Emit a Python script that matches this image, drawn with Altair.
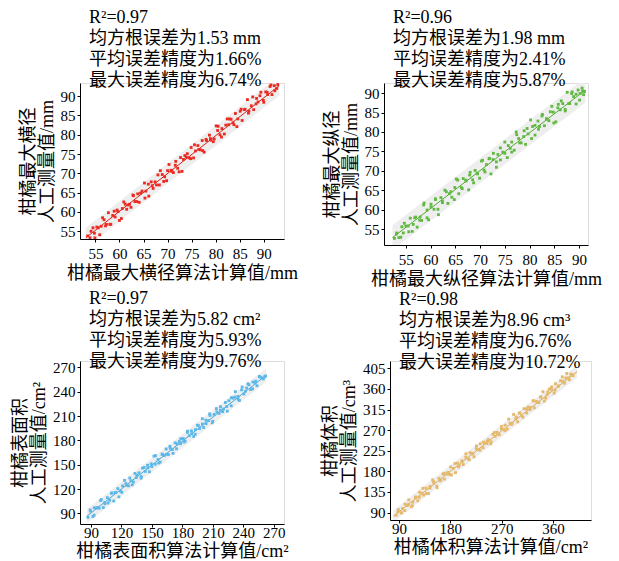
import altair as alt
import pandas as pd

FONT = "Liberation Serif, Noto Sans CJK SC"

# ---------------- panel 1: 最大横径 ----------------
x1 = [53.4, 53.9, 54.5, 54.8, 55.3, 55.9, 56.2, 56.8, 57.1, 57.7, 58.2, 58.6, 59.1, 59.5, 60.0, 60.6, 60.9, 61.5, 61.8, 62.4,
      62.9, 63.2, 63.8, 64.1, 64.7, 65.2, 65.5, 66.1, 66.6, 67.0, 67.4, 68.0, 68.3, 68.9, 69.4, 69.8, 70.3, 70.7, 71.2, 71.6,
      72.1, 72.7, 73.0, 73.6, 73.9, 74.5, 74.9, 75.4, 75.8, 76.3, 76.8, 77.2, 77.6, 78.1, 78.7, 79.0, 79.5, 80.1, 80.4, 80.9,
      81.3, 81.8, 82.4, 82.7, 83.2, 83.8, 84.1, 84.6, 85.1, 85.5, 86.0, 86.6, 86.9, 87.4, 87.9, 88.5, 88.8, 89.4, 89.9, 90.4,
      90.8, 91.3, 91.7, 92.2, 92.7,
      54.1, 54.9, 55.6, 56.5, 57.3, 58.0, 58.9, 59.7, 60.4, 61.2, 62.1, 62.8, 63.6, 64.4, 65.3, 66.0, 66.8, 67.7, 68.5, 69.2,
      70.0, 70.9, 71.7, 72.4, 73.3, 74.1, 74.8, 75.6, 76.5, 77.3, 78.0, 78.9, 79.7, 80.5, 81.2, 82.1, 82.9, 83.6, 84.4, 85.3,
      86.1, 86.8, 87.7, 88.4, 89.2, 90.0, 90.7, 91.5, 92.3, 92.9]
y1 = [53.8, 53.3, 55.9, 54.5, 56.1, 54.1, 56.3, 58.0, 56.4, 59.8, 56.8, 59.1, 58.7, 60.5, 57.8, 60.9, 62.6, 60.7, 61.8, 61.2,
      64.2, 62.7, 64.7, 62.5, 65.4, 67.5, 65.4, 64.1, 67.8, 66.1, 67.8, 69.6, 67.0, 69.7, 69.1, 68.1, 72.3, 70.8, 70.2, 72.1,
      71.3, 74.1, 70.5, 74.6, 74.2, 74.0, 76.7, 74.0, 75.8, 77.2, 76.1, 78.5, 75.5, 78.5, 79.9, 78.6, 78.2, 82.3, 81.1, 80.0,
      81.6, 80.2, 84.1, 82.6, 84.0, 82.6, 85.5, 84.1, 86.1, 83.7, 86.5, 89.1, 86.1, 87.5, 86.5, 89.4, 88.5, 91.0, 88.9, 91.1,
      90.4, 92.5, 90.4, 92.7, 92.0,
      55.0, 53.3, 55.9, 58.5, 56.8, 56.8, 60.2, 60.1, 58.3, 62.0, 62.0, 64.4, 62.7, 64.9, 63.6, 67.2, 66.8, 67.0, 70.7, 67.9,
      70.7, 70.5, 73.1, 70.4, 73.6, 75.1, 73.8, 77.4, 76.2, 75.9, 78.8, 79.0, 78.9, 82.2, 79.4, 82.5, 84.1, 83.1, 82.1, 86.6,
      86.6, 85.6, 89.8, 88.0, 90.1, 88.4, 91.0, 92.9, 91.4, 93.0]
fit1_x = [53.0, 93.2]
fit1_y = [53.3, 92.7]
band1_lo = [50.7, 90.1]
band1_hi = [55.9, 95.3]

# ---------------- panel 2: 最大纵径 ----------------
x2 = [52.7, 53.1, 53.6, 54.2, 54.5, 55.0, 55.6, 55.9, 56.5, 56.8, 57.3, 57.9, 58.2, 58.7, 59.3, 59.6, 60.1, 60.7, 61.0, 61.5,
      62.1, 62.4, 62.9, 63.5, 63.8, 64.3, 64.9, 65.2, 65.7, 66.2, 66.6, 67.1, 67.7, 68.0, 68.5, 69.0, 69.4, 69.9, 70.5, 70.8,
      71.3, 71.8, 72.2, 72.7, 73.3, 73.6, 74.1, 74.6, 75.0, 75.5, 76.1, 76.4, 76.9, 77.4, 77.8, 78.3, 78.9, 79.2, 79.7, 80.2,
      80.6, 81.1, 81.7, 82.0, 82.5, 83.0, 83.4, 83.9, 84.5, 84.8, 85.3, 85.8, 86.2, 86.7, 87.2, 87.6, 88.1, 88.5, 88.9, 89.4,
      89.8, 90.2, 90.6, 90.9, 91.1,
      53.2, 54.0, 54.7, 55.5, 56.3, 57.0, 57.8, 58.6, 59.3, 60.1, 61.0, 61.6, 62.4, 63.2, 64.1, 64.8, 65.5, 66.4, 67.2, 67.9,
      68.7, 69.5, 70.3, 71.0, 71.9, 72.6, 73.3, 74.1, 75.0, 75.7, 76.4, 77.3, 78.0, 78.8, 79.5, 80.4, 81.1, 81.8, 82.6, 83.5,
      84.2, 84.9, 85.7, 86.4, 87.2, 87.9, 88.6, 89.4, 90.1, 90.7]
y2 = [52.6, 53.7, 52.8, 55.6, 54.0, 55.8, 54.3, 57.8, 56.2, 57.9, 55.5, 58.1, 57.2, 61.7, 59.9, 57.4, 61.4, 60.1, 62.8, 60.1,
      63.1, 62.2, 65.0, 61.6, 64.1, 63.2, 65.7, 67.9, 64.1, 65.7, 68.0, 67.6, 65.1, 69.6, 67.7, 70.1, 69.4, 68.1, 72.7, 70.2,
      71.6, 73.1, 69.2, 74.5, 72.3, 74.2, 72.8, 74.8, 77.4, 73.4, 75.8, 77.4, 75.3, 79.3, 78.3, 77.2, 80.3, 76.8, 79.5, 83.1,
      81.4, 79.2, 82.8, 81.4, 84.1, 81.6, 83.4, 82.9, 86.6, 85.1, 82.6, 87.1, 85.7, 87.3, 85.4, 90.2, 87.3, 89.9, 89.1, 87.2,
      90.8, 89.9, 91.3, 89.6, 90.4,
      54.0, 52.9, 56.5, 55.8, 54.4, 58.1, 57.3, 61.2, 57.9, 60.7, 62.6, 58.7, 61.8, 64.6, 64.6, 62.6, 67.6, 65.4, 67.4, 68.9,
      66.9, 69.2, 72.5, 69.7, 73.2, 72.9, 70.9, 75.9, 74.5, 76.5, 74.8, 80.0, 77.2, 78.8, 80.9, 78.3, 81.7, 80.7, 84.5, 83.3,
      85.2, 82.3, 86.2, 88.0, 85.8, 87.3, 90.3, 89.7, 88.2, 90.6]
fit2_x = [52.3, 91.3]
fit2_y = [52.8, 90.8]
band2_lo = [49.6, 87.6]
band2_hi = [56.0, 94.0]

# ---------------- panel 3: 表面积 ----------------
x3 = [87.0, 89.2, 91.9, 93.2, 95.5, 98.1, 99.5, 102.1, 103.5, 106.1, 108.4, 110.1, 112.4, 114.1, 116.4, 119.0, 120.4, 123.0,
      124.4, 127.1, 129.3, 130.6, 133.3, 134.6, 137.3, 139.5, 140.8, 143.5, 145.7, 147.5, 149.3, 152.0, 153.3, 156.0, 158.2,
      160.0, 162.2, 164.0, 166.2, 168.0, 170.2, 172.9, 174.2, 176.9, 178.2, 180.9, 182.7, 184.9, 186.7, 188.9, 191.1, 192.9,
      194.7, 196.9, 199.6, 200.9, 203.1, 205.8, 207.2, 209.4, 211.2, 213.4, 216.1, 217.4, 219.6, 222.3, 223.6, 225.8, 228.1,
      229.8, 232.1, 234.7, 236.1, 238.3, 240.5, 243.2, 244.5, 247.2, 249.4, 251.7, 253.4, 255.7, 257.4, 259.7, 261.9,
      89.5, 93.1, 96.2, 100.2, 103.7, 106.8, 110.8, 114.4, 117.5, 121.1, 125.1, 128.2, 131.8, 135.3, 139.3, 142.4, 146.0,
      150.0, 153.5, 156.6, 160.2, 164.2, 167.7, 170.8, 174.8, 178.4, 181.5, 185.1, 189.1, 192.6, 195.7, 199.7, 203.3, 206.8,
      209.9, 213.9, 217.5, 220.6, 224.2, 228.2, 231.7, 234.8, 238.8, 242.0, 245.5, 249.1, 252.2, 255.8, 259.3, 261.0]
y3 = [85.0, 94.2, 86.0, 96.8, 96.4, 96.3, 105.8, 97.1, 103.5, 109.3, 106.1, 114.6, 105.2, 115.5, 120.5, 117.6, 115.9, 130.7,
      126.7, 123.9, 130.2, 125.2, 139.2, 134.1, 140.0, 135.4, 145.8, 141.7, 149.3, 141.2, 151.1, 160.6, 150.6, 156.5, 153.2,
      163.2, 161.3, 169.4, 162.6, 170.3, 168.8, 177.0, 169.7, 178.7, 175.9, 182.3, 179.1, 189.9, 185.8, 191.6, 184.8, 193.4,
      198.8, 194.6, 206.8, 195.9, 204.9, 204.4, 210.8, 201.7, 212.1, 219.3, 213.4, 217.4, 215.5, 226.8, 221.8, 229.0, 222.7,
      232.1, 240.2, 234.2, 229.3, 242.4, 237.3, 244.6, 249.9, 242.7, 252.1, 250.8, 247.5, 259.0, 257.9, 256.1, 259.5,
      92.7, 87.7, 97.1, 107.0, 101.9, 102.7, 115.3, 115.8, 110.3, 123.8, 124.6, 133.6, 128.6, 137.1, 133.4, 146.5, 146.0,
      147.7, 161.2, 152.1, 162.5, 162.8, 172.7, 164.0, 175.7, 182.0, 177.9, 191.4, 188.2, 187.6, 198.4, 200.2, 200.6, 212.7,
      203.6, 215.3, 221.6, 218.8, 216.1, 232.7, 233.5, 230.7, 246.0, 240.6, 248.7, 243.7, 253.1, 258.5, 256.1, 258.8]
fit3_x = [86.0, 262.5]
fit3_y = [86.5, 260.5]
band3_lo = [78.0, 252.0]
band3_hi = [95.0, 269.0]

# ---------------- panel 4: 体积 ----------------
x4 = [85.0, 88.9, 93.7, 96.0, 100.0, 104.7, 107.1, 111.8, 114.2, 118.9, 122.9, 126.0, 130.0, 133.1, 137.1, 141.8, 144.2, 148.9,
      151.3, 156.0, 160.0, 162.3, 167.1, 169.4, 174.2, 178.1, 180.5, 185.2, 189.1, 192.3, 195.5, 200.2, 202.6, 207.3, 211.2,
      214.4, 218.3, 221.5, 225.4, 228.6, 232.5, 237.3, 239.6, 244.4, 246.7, 251.5, 254.6, 258.6, 261.7, 265.7, 269.6, 272.8,
      275.9, 279.9, 284.6, 287.0, 290.9, 295.7, 298.0, 302.0, 305.1, 309.1, 313.8, 316.2, 320.1, 324.9, 327.2, 331.2, 335.1,
      338.3, 342.2, 347.0, 349.3, 353.3, 357.2, 361.9, 364.3, 369.0, 373.0, 376.9, 380.1, 384.0, 387.2, 391.1, 395.1,
      88.0, 94.5, 100.6, 106.8, 113.3, 119.2, 125.6, 131.9, 138.0, 144.4, 150.5, 156.9, 163.0, 169.3, 175.6, 181.8, 188.1,
      194.3, 200.6, 206.9, 213.1, 219.4, 225.7, 231.9, 238.2, 244.5, 250.7, 257.0, 263.3, 269.5, 275.8, 282.1, 288.3, 294.6,
      300.9, 307.1, 313.4, 319.7, 325.9, 332.2, 338.5, 344.7, 351.0, 357.3, 363.5, 369.8, 376.1, 382.3, 388.6, 393.0]
y4 = [84.0, 96.6, 89.5, 98.8, 94.4, 105.4, 117.6, 102.7, 112.8, 123.1, 115.9, 134.4, 132.1, 128.2, 143.4, 131.3, 143.5, 161.5,
      154.8, 147.6, 164.9, 159.5, 174.1, 163.1, 174.2, 173.9, 189.6, 186.6, 177.2, 197.9, 193.4, 203.0, 194.9, 218.5, 207.7,
      220.7, 219.0, 211.7, 229.6, 227.2, 240.2, 231.7, 241.7, 240.9, 249.5, 244.5, 260.9, 256.5, 265.2, 260.1, 278.0, 271.4,
      280.8, 272.2, 285.3, 282.8, 304.2, 298.5, 288.2, 307.6, 302.3, 316.8, 307.5, 320.4, 319.4, 334.0, 318.8, 332.6, 330.2,
      341.8, 354.1, 340.0, 347.2, 359.6, 359.3, 350.7, 371.3, 365.5, 377.9, 376.9, 372.4, 393.8, 384.4, 392.5, 389.0,
      91.5, 89.6, 108.3, 108.2, 104.9, 124.1, 123.5, 143.1, 131.7, 147.2, 157.5, 144.3, 160.2, 175.6, 177.7, 172.0, 197.2,
      190.1, 201.3, 211.1, 205.4, 218.0, 235.5, 226.3, 243.8, 245.9, 240.2, 264.7, 261.2, 273.0, 268.8, 294.0, 284.8, 294.6,
      307.2, 298.0, 316.2, 314.8, 334.3, 331.5, 342.7, 333.5, 353.1, 364.3, 357.2, 367.0, 386.6, 383.7, 380.2, 391.0]
fit4_x = [80.0, 402.0]
fit4_y = [82.0, 398.0]
band4_lo = [69.0, 385.0]
band4_hi = [95.0, 411.0]

texts = [
    ["R²=0.97", "均方根误差为1.53 mm", "平均误差精度为1.66%", "最大误差精度为6.74%"],
    ["R²=0.96", "均方根误差为1.98 mm", "平均误差精度为2.41%", "最大误差精度为5.87%"],
    ["R²=0.97", "均方根误差为5.82 cm²", "平均误差精度为5.93%", "最大误差精度为9.76%"],
    ["R²=0.98", "均方根误差为8.96 cm³", "平均误差精度为6.76%", "最大误差精度为10.72%"],
]
xtitles = ["柑橘最大横径算法计算值/mm", "柑橘最大纵径算法计算值/mm", "柑橘表面积算法计算值/cm²", "柑橘体积算法计算值/cm²"]
ytitles = [["柑橘最大横径", "人工测量值/mm"], ["柑橘最大纵径", "人工测量值/mm"],
           ["柑橘表面积", "人工测量值/cm²"], ["柑橘体积", "人工测量值/cm³"]]
ticks_a = [55, 60, 65, 70, 75, 80, 85, 90]
ticks_s = [90, 120, 150, 180, 210, 240, 270]
ticks_vy = [90, 135, 180, 225, 270, 315, 360, 405]
ticks_vx = [90, 180, 270, 360]


def axis(values, title, lpad, tpad):
    return alt.Axis(values=values, title=title, grid=False, domainColor="black", tickColor="black",
                    tickSize=3, labelFont=FONT, labelFontSize=15, labelColor="black", labelPadding=lpad,
                    labelOverlap=False, labelFlush=False, titleFont=FONT, titleFontSize=18,
                    titleFontWeight="normal", titleColor="black", titlePadding=tpad,
                    titleLineHeight=19)


def panel(xs, ys, fx, fy, blo, bhi, color, lcolor, xdom, ydom, xt, yt, text, xtitle, ytitle, w, h,
          xlpad, xtpad, toff):
    pts = pd.DataFrame({"x": xs, "y": ys})
    fit = pd.DataFrame({"x": fx, "y": fy, "lo": blo, "hi": bhi})
    xsc = alt.Scale(domain=xdom, nice=False, zero=False)
    ysc = alt.Scale(domain=ydom, nice=False, zero=False)
    xax = axis(xt, xtitle, xlpad, xtpad)
    yax = axis(yt, ytitle, 2, 4)
    band = alt.Chart(fit).mark_area(color="#eeeeee", clip=True).encode(
        x=alt.X("x:Q", scale=xsc, axis=xax), y=alt.Y("lo:Q", scale=ysc, axis=yax), y2="hi:Q")
    line = alt.Chart(fit).mark_line(color=lcolor, strokeWidth=1, clip=True).encode(
        x=alt.X("x:Q", scale=xsc, axis=xax), y=alt.Y("y:Q", scale=ysc, axis=yax))
    dots = alt.Chart(pts).mark_square(size=8, color=color, opacity=1, clip=True).encode(
        x=alt.X("x:Q", scale=xsc, axis=xax), y=alt.Y("y:Q", scale=ysc, axis=yax))
    return alt.layer(band, line, dots).properties(
        width=w, height=h,
        title=alt.TitleParams(text=text, font=FONT, fontSize=18, fontWeight="normal", color="black",
                              anchor="start", frame="group", lineHeight=21, dx=9, offset=toff))


p1 = panel(x1, y1, fit1_x, fit1_y, band1_lo, band1_hi, "#ec2a22", "#d81e16", [51.8, 94.2], [53.0, 93.4],
           ticks_a, ticks_a, texts[0], xtitles[0], ytitles[0], 204, 156, 4, 3, -7)
p2 = panel(x2, y2, fit2_x, fit2_y, band2_lo, band2_hi, "#62b942", "#4fa82f", [50.6, 91.8], [50.9, 92.6],
           ticks_a, ticks_a, texts[1], xtitles[1], ytitles[1], 204, 162, 4, 3, -7)
p3 = panel(x3, y3, fit3_x, fit3_y, band3_lo, band3_hi, "#5cb8e8", "#3aa5de", [79.2, 280.0], [76.8, 278.0],
           ticks_s, ticks_s, texts[2], xtitles[2], ytitles[2], 204, 163, -2, 2, -11)
p4 = panel(x4, y4, fit4_x, fit4_y, band4_lo, band4_hi, "#e6b86a", "#d9a650", [74.2, 426.5], [73.8, 421.0],
           ticks_vx, ticks_vy, texts[3], xtitles[3], ytitles[3], 201, 159, -2, 2, -11)

chart = alt.vconcat(
    alt.hconcat(p1, p2, spacing=23),
    alt.hconcat(p3, p4, spacing=32),
    spacing=0,
).properties(padding={"left": 3, "top": 0, "right": 0, "bottom": 0}).configure_view(stroke=None).configure(
    background="white")

chart.save("out.html", embed_options={"renderer": "svg", "actions": False})
